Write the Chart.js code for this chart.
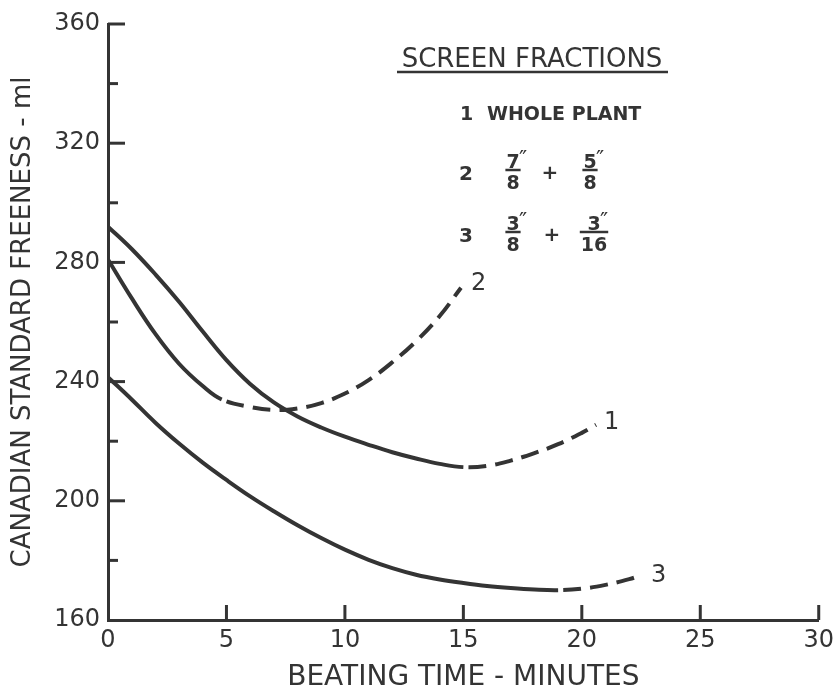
<!DOCTYPE html>
<html lang="en">
<head>
  <meta charset="UTF-8">
  <title>Freeness vs beating time</title>
  <script src="https://cdn.jsdelivr.net/npm/chart.js"></script>
  <style>
    html, body { margin: 0; padding: 0; background: #fff; }
    #wrap { width: 840px; height: 694px; }
  </style>
</head>
<body>
  <div id="wrap"><canvas id="freeness" width="840" height="694"></canvas></div>

  <script>
    // screen fractions, one curve each
    const fractionNames = ['1', '2', '3'];

    // 1 - whole plant
    const minutes1 = [0, 1, 2, 3, 4, 5, 6, 7, 8, 9, 10, 11, 12, 13, 14, 15, 16, 17, 18, 19, 20, 20.6];
    const freeness1 = [292, 284.5, 276, 266.8, 256.8, 247.2, 239.2, 233, 228.3, 224.6, 221.5, 218.8, 216.3, 214.2, 212.4, 211.3, 211.7, 213.5, 216, 219, 222.8, 225.5];

    // 2 - 7/8" + 5/8"
    const minutes2 = [0, 1, 2, 3, 4, 4.8, 6, 7, 8, 9, 10, 11, 12, 13, 14, 14.9];
    const freeness2 = [281, 268, 256, 246, 238.5, 234, 231.5, 230.5, 231, 232.8, 236, 240.5, 246.5, 253.5, 262, 271.5];

    // 3 - 3/8" + 3/16"
    const minutes3 = [0, 1, 2, 3, 4, 5, 6, 7, 8, 9, 10, 11, 12, 13, 14, 15, 16, 17, 18, 19, 20, 21, 22, 22.5];
    const freeness3 = [241.5, 234, 226.2, 219.2, 212.8, 207, 201.5, 196.5, 191.8, 187.5, 183.6, 180.2, 177.4, 175.2, 173.6, 172.4, 171.4, 170.7, 170.2, 170, 170.5, 171.8, 173.7, 175];

    // past these times the curves are extrapolated (dashed)
    const dashedFrom = [15, 4.8, 19];

    const timeTicks = { min: 0, max: 30, step: 5 };
    const freenessTicks = { min: 160, max: 360, step: 20, labelEvery: 40 };

    const ink = '#343434';
    const family = '"DejaVu Sans", sans-serif';

    function curve(i, xs, ys) {
      return {
        label: fractionNames[i],
        data: xs.map((x, k) => ({ x: x, y: ys[k] })),
        borderColor: ink,
        borderWidth: 4,
        pointRadius: 0,
        fill: false,
        tension: 0.4,
        segment: {
          borderDash: ctx => ctx.p0.parsed.x >= dashedFrom[i] ? [18, 9] : undefined,
          borderDashOffset: ctx => ctx.p0.parsed.x >= dashedFrom[i] ? 22 : 0
        }
      };
    }

    function stroke(ctx, x1, y1, x2, y2) {
      ctx.beginPath();
      ctx.moveTo(x1, y1);
      ctx.lineTo(x2, y2);
      ctx.stroke();
    }

    function fraction(ctx, cx, num, den, top) {
      ctx.font = 'bold 19px ' + family;
      ctx.textAlign = 'center';
      ctx.textBaseline = 'alphabetic';
      ctx.fillText(num, cx, top + 14);
      ctx.lineWidth = 2.5;
      const w = Math.max(ctx.measureText(den).width, 12);
      stroke(ctx, cx - w / 2 - 1, top + 16, cx + w / 2 + 1, top + 16);
      ctx.fillText(den, cx, top + 35);
      ctx.font = '22px ' + family;
      ctx.textAlign = 'left';
      ctx.fillText('″', cx + 6, top + 12);
    }

    // inward tick marks, curve numbers and the key
    const annotations = {
      id: 'annotations',
      afterDraw(chart) {
        const { ctx, chartArea: a, scales: { x, y } } = chart;
        ctx.save();
        ctx.strokeStyle = ink;
        ctx.fillStyle = ink;
        ctx.lineWidth = 3;

        y.ticks.forEach(t => {
          const py = y.getPixelForValue(t.value);
          const len = t.value % freenessTicks.labelEvery === 0 ? 17 : 10;
          if (t.value > freenessTicks.min) stroke(ctx, a.left, py, a.left + len, py);
        });
        x.ticks.forEach(t => {
          const px = x.getPixelForValue(t.value);
          if (t.value > timeTicks.min) stroke(ctx, px, a.bottom, px, a.bottom - 15);
        });

        // curve numbers at the end of each curve
        ctx.font = '24px ' + family;
        ctx.textAlign = 'left';
        ctx.textBaseline = 'middle';
        const nudge = [[8, -2], [10, -4], [10, 0]];
        chart.data.datasets.forEach((ds, i) => {
          const pts = chart.getDatasetMeta(i).data;
          const end = pts[pts.length - 1];
          ctx.fillText(ds.label, end.x + nudge[i][0], end.y + nudge[i][1]);
        });

        // key
        ctx.font = '26px ' + family;
        ctx.textAlign = 'center';
        ctx.textBaseline = 'alphabetic';
        ctx.fillText('SCREEN FRACTIONS', 532, 67);
        ctx.lineWidth = 2.5;
        stroke(ctx, 397, 72, 668, 72);

        ctx.font = 'bold 19px ' + family;
        ctx.textAlign = 'left';
        ctx.fillText('1', 460, 120);
        ctx.fillText('WHOLE PLANT', 487, 120);

        ctx.font = 'bold 20px ' + family;
        ctx.fillText('2', 459, 180);
        fraction(ctx, 513, '7', '8', 154);
        ctx.font = 'bold 20px ' + family;
        ctx.textAlign = 'center';
        ctx.fillText('+', 550, 179);
        fraction(ctx, 590, '5', '8', 154);

        ctx.font = 'bold 20px ' + family;
        ctx.textAlign = 'left';
        ctx.fillText('3', 459, 242);
        fraction(ctx, 513, '3', '8', 216);
        ctx.font = 'bold 20px ' + family;
        ctx.textAlign = 'center';
        ctx.fillText('+', 552, 241);
        fraction(ctx, 594, '3', '16', 216);

        ctx.restore();
      }
    };

    new Chart(document.getElementById('freeness'), {
      type: 'line',
      data: {
        datasets: [
          curve(0, minutes1, freeness1),
          curve(1, minutes2, freeness2),
          curve(2, minutes3, freeness3)
        ]
      },
      options: {
        responsive: false,
        animation: false,
        layout: { padding: { left: 0, right: 16, top: 24, bottom: 0 } },
        plugins: { legend: { display: false }, tooltip: { enabled: false } },
        scales: {
          x: {
            type: 'linear',
            min: timeTicks.min,
            max: timeTicks.max,
            grid: { display: false, drawTicks: false },
            border: { display: true, color: ink, width: 3 },
            ticks: {
              stepSize: timeTicks.step,
              color: ink,
              padding: 6,
              maxRotation: 0,
              font: { family: family, size: 24 }
            },
            title: {
              display: true,
              text: 'BEATING TIME - MINUTES',
              color: ink,
              font: { family: family, size: 28, lineHeight: 1 },
              padding: { top: 0, bottom: 2 }
            },
            afterFit: s => { s.height = 74; }
          },
          y: {
            type: 'linear',
            min: freenessTicks.min,
            max: freenessTicks.max,
            grid: { display: false, drawTicks: false },
            border: { display: true, color: ink, width: 3 },
            ticks: {
              stepSize: freenessTicks.step,
              autoSkip: false,
              color: ink,
              padding: 8,
              font: { family: family, size: 24 },
              callback: v => v % freenessTicks.labelEvery === 0 ? v : ''
            },
            title: {
              display: true,
              text: 'CANADIAN STANDARD FREENESS - ml',
              color: ink,
              font: { family: family, size: 26, lineHeight: 1 },
              padding: { top: 10, bottom: 0 }
            },
            afterFit: s => { s.width = 108; }
          }
        }
      },
      plugins: [annotations]
    });
  </script>
</body>
</html>
